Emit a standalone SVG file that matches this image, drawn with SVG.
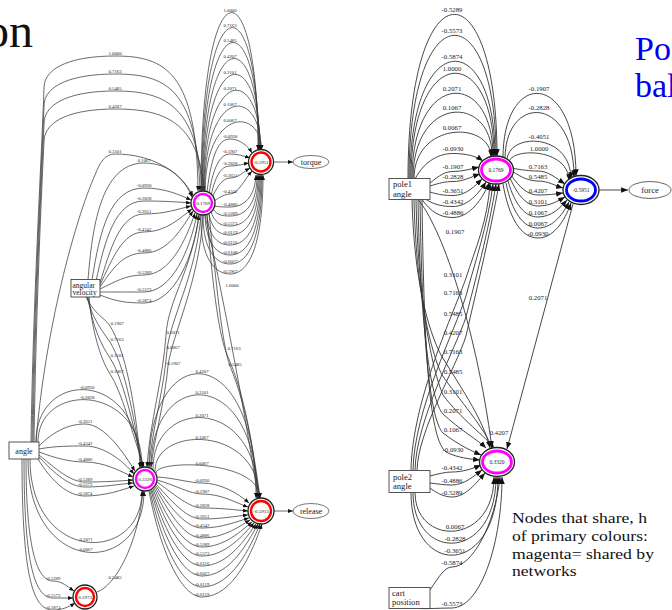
<svg xmlns="http://www.w3.org/2000/svg" width="672" height="610" viewBox="0 0 672 610">
<defs>
<marker id="al" viewBox="0 0 10 8" refX="10" refY="4" markerWidth="5" markerHeight="4" markerUnits="userSpaceOnUse" orient="auto"><path d="M0,0 L10,4 L0,8 z" fill="#111"/></marker>
<marker id="ar" viewBox="0 0 10 8" refX="10" refY="4" markerWidth="7" markerHeight="5.5" markerUnits="userSpaceOnUse" orient="auto"><path d="M0,0 L10,4 L0,8 z" fill="#111"/></marker>
<style>
.e{fill:none;stroke:#3a3a3a;stroke-width:0.75;marker-end:url(#al)}
.er{fill:none;stroke:#333;stroke-width:0.9;marker-end:url(#ar)}
.lb{font-family:"Liberation Serif",serif;font-size:4.8px;text-anchor:middle;fill:#222}
.lr{font-family:"Liberation Serif",serif;font-size:6.8px;text-anchor:middle;fill:#222}
.nt{font-family:"Liberation Serif",serif;text-anchor:middle;fill:#222}
.bx{fill:#fff;stroke:#444;stroke-width:0.9}
.ob{fill:#fff;stroke:#222;stroke-width:1.3}
.tt{font-family:"Liberation Serif",serif}
</style>
</defs>
<rect width="672" height="610" fill="#fff"/>

<text class="tt" x="33" y="47" font-size="48" text-anchor="end" fill="#111">on</text>
<text class="tt" x="635" y="60" font-size="34" fill="#0000ee">Po</text>
<text class="tt" x="635" y="97" font-size="34" fill="#0000ee">bal</text>
<g class="tt" font-size="15.6" fill="#111">
<text transform="translate(512,522.5) scale(1.13,1)">Nodes that share, h</text>
<text transform="translate(512,540.5) scale(1.13,1)">of primary colours:</text>
<text transform="translate(512,558.5) scale(1.13,1)">magenta= shared by</text>
<text transform="translate(512,576) scale(1.13,1)">networks</text>
</g>

<g id="connectors-left">
<path class="e" d="M31,442 C33,300 42,150 44,88 C44,66 75,56 115,56 C165,56 197,72 198,191"/>
<path class="e" d="M32,442 C34,300 42,160 44,106 C44,84 75,74 115,74 C165,74 197,88 200,191"/>
<path class="e" d="M33,442 C35,300 42,170 44,124 C44,101 75,91 115,91 C163,91 198,104 202,191"/>
<path class="e" d="M34,442 C36,310 42,180 44,142 C44,119 75,109 115,109 C162,109 199,120 204,191"/>
<path class="e" d="M36,442 C45,330 75,220 95,175 C100,162 105,154 115,154 C150,154 180,170 193,196"/>
<path class="e" d="M88,280 C92,230 100,163 144,163 C170,163 185,180 192,197"/>
<path class="e" d="M92,280 C100,230 110,188 144,188 C165,188 180,195 191,200"/>
<path class="e" d="M96,281 C105,240 115,201 144,201 C165,201 178,202 191,203"/>
<path class="e" d="M100,283 C110,250 120,214 144,214 C165,214 178,209 191,206"/>
<path class="e" d="M100,285 C112,260 122,232 144,232 C166,232 180,218 192,209"/>
<path class="e" d="M100,287 C112,270 122,253 144,253 C168,253 182,228 193,211"/>
<path class="e" d="M100,289 C115,282 125,275 144,275 C170,275 186,240 195,213"/>
<path class="e" d="M100,292 C115,292 125,292 144,292 C172,292 190,250 197,214"/>
<path class="e" d="M100,295 C115,301 125,303 144,303 C175,303 194,255 199,215"/>
<path class="e" d="M201,191 C201,-39.5 258,-39.5 258,150"/>
<path class="e" d="M201.6,191 C201.6,-19.5 258.5,-19.5 258.5,150"/>
<path class="e" d="M202.2,191 C202.2,0.5 259,0.5 259,150"/>
<path class="e" d="M202.8,191 C202.8,21.9 259.5,21.9 259.5,150"/>
<path class="e" d="M203.4,191 C203.4,43.2 260,43.2 260,150"/>
<path class="e" d="M204,191 C204,64.5 260.5,64.5 260.5,150"/>
<path class="e" d="M204.6,191 C204.6,85.9 261,85.9 261,150"/>
<path class="e" d="M205.2,191 C205.2,107.2 261.5,107.2 261.5,150"/>
<path class="e" d="M207,192 C212,150 220,139 230,139 C240,139 248,146 252,153"/>
<path class="e" d="M209,194 C214,162 222,154 230,154 C238,154 244,156 250,158"/>
<path class="e" d="M211,196 C216,172 223,166 230,166 C238,166 243,164 249,163"/>
<path class="e" d="M212,198 C218,184 224,178 230,178 C238,178 243,172 250,168"/>
<path class="e" d="M214,201 C220,197 225,194 230,194 C238,194 244,180 252,171"/>
<path class="e" d="M214,206 C220,207 224,207 230,207 C244,207 255,197 256,175"/>
<path class="e" d="M213,209 C217,215 222,216 230,216 C245,216 257,205 257,175"/>
<path class="e" d="M211,212 C215,223 221,226 230,226 C246,226 258,212 258,175"/>
<path class="e" d="M209,214 C212,230 220,235 230,235 C247,235 259,218 259,175"/>
<path class="e" d="M207,215 C209,238 219,245 230,245 C248,245 260,225 260,175"/>
<path class="e" d="M205,215 C206,245 218,255 230,255 C249,255 261,230 261,175"/>
<path class="e" d="M203,215 C203,252 217,264 230,264 C250,264 262,235 262,175"/>
<path class="e" d="M201,215 C200,260 216,274 230,274 C251,274 263,240 263,175"/>
<path class="e" d="M199,215 C192,270 168,300 166,335 C163,380 150,420 147,467"/>
<path class="e" d="M201,215 C196,275 170,320 167,350 C164,390 152,430 149,467"/>
<path class="e" d="M203,215 C200,280 172,335 168,366 C165,400 154,440 151,467"/>
<path class="e" d="M205,215 C215,260 240,380 258,498"/>
<path class="e" d="M207,215 C212,280 218,330 226,352 C234,372 248,400 259,498"/>
<path class="e" d="M209,214 C216,280 222,345 230,366 C238,386 250,420 260,498"/>
<path class="e" d="M149,467 C149,337.9 256,337.9 256,498"/>
<path class="e" d="M151,468 C151,365.9 257,365.9 257,498"/>
<path class="e" d="M153,469 C153,396.2 258,396.2 258,498"/>
<path class="e" d="M155,471 C155,425.2 259,425.2 259,498"/>
<path class="e" d="M156,473 C156,459.5 260,459.5 260,498"/>
<path class="e" d="M157,477 C175,478 190,483 202,483 C220,483 238,493 249,503"/>
<path class="e" d="M157,480 C175,485 190,494 202,494 C222,494 236,503 248,507"/>
<path class="e" d="M157,482 C175,495 190,508 202,508 C222,508 236,510 248,511"/>
<path class="e" d="M156,484 C175,505 188,519 202,519 C222,519 236,516 248,515"/>
<path class="e" d="M156,486 C173,512 188,528 202,528 C222,528 238,521 249,518"/>
<path class="e" d="M155,487 C172,518 186,538 202,538 C224,538 240,526 250,520"/>
<path class="e" d="M154,488 C170,525 186,547 202,547 C225,547 242,530 252,522"/>
<path class="e" d="M153,489 C168,530 185,556 202,556 C226,556 244,534 254,523"/>
<path class="e" d="M152,490 C166,535 184,566 202,566 C228,566 246,538 256,524"/>
<path class="e" d="M151,490 C164,540 183,576 202,576 C230,576 248,542 258,524"/>
<path class="e" d="M150,491 C162,545 182,587 202,587 C232,587 251,546 260,524"/>
<path class="e" d="M149,491 C160,550 181,597 202,597 C234,597 253,550 262,524"/>
<path class="e" d="M36,442 C36,368.3 140,368.3 140,468"/>
<path class="e" d="M38,442 C38,381.9 142,381.9 142,467"/>
<path class="e" d="M39,446 C55,430 70,424 85,424 C105,424 125,455 135,471"/>
<path class="e" d="M39,449 C55,446 70,446 85,446 C105,446 124,462 134,474"/>
<path class="e" d="M39,452 C55,458 70,462 85,462 C105,462 122,472 133,477"/>
<path class="e" d="M39,455 C55,468 70,482 85,482 C105,482 120,481 133,480"/>
<path class="e" d="M39,457 C55,474 70,487 85,487 C105,487 120,484 133,483"/>
<path class="e" d="M38,459 C52,482 68,496 85,496 C105,496 122,490 134,486"/>
<path class="e" d="M30,459 C30,564.3 142,564.3 142,491"/>
<path class="e" d="M28,459 C28,577.7 144,577.7 144,491"/>
<path class="e" d="M26,459 C26,540 35,581 53,581 C62,581 68,587 74,591"/>
<path class="e" d="M24,459 C24,565 35,598 53,598 C60,598 66,598 73,598"/>
<path class="e" d="M22,459 C22,585 35,610 53,610 C62,610 69,607 75,603"/>
<path class="e" d="M97,592 C115,586 138,545 143,491"/>
<path class="e" d="M86,297 C95,315 105,318 110,326 C125,350 135,400 141,467"/>
<path class="e" d="M87,297 C93,320 103,332 110,342 C124,365 133,410 142,467"/>
<path class="e" d="M88,297 C92,325 101,345 110,358 C123,378 132,420 143,467"/>
<path class="e" d="M89,297 C92,330 100,358 110,374 C122,392 131,430 144,467"/>
<path class="e" d="M274,162 L293,162"/>
<path class="e" d="M274,511 L293,511"/>
</g>

<g id="edge-labels-left" class="lb">
<text x="115" y="54.6">1.0000</text><text x="115" y="72.6">0.7163</text><text x="115" y="89.6">0.5485</text><text x="115" y="107.6">0.4207</text><text x="115" y="152.6">0.3101</text>
<text x="144" y="161.6">0.1067</text><text x="144" y="186.6">-0.0930</text><text x="144" y="199.6">-0.2828</text><text x="144" y="212.6">-0.3651</text><text x="144" y="230.6">-0.4342</text><text x="144" y="251.6">-0.4886</text><text x="144" y="273.6">-0.5289</text><text x="144" y="290.6">-0.5573</text><text x="144" y="301.6">-0.5874</text>
<text x="230" y="11.6">1.0000</text><text x="230" y="26.6">0.7163</text><text x="230" y="41.6">0.5485</text><text x="230" y="57.6">0.4207</text><text x="230" y="73.6">0.3101</text><text x="230" y="89.6">0.2071</text><text x="230" y="105.6">0.1067</text><text x="230" y="121.6">0.0067</text><text x="230" y="137.6">-0.0930</text><text x="230" y="152.6">-0.1907</text><text x="230" y="164.6">-0.2828</text><text x="230" y="176.6">-0.3651</text><text x="230" y="192.6">-0.4342</text>
<text x="230" y="205.6">-0.4886</text><text x="230" y="214.6">-0.5289</text><text x="230" y="224.6">-0.5573</text><text x="230" y="233.6">-0.6119</text><text x="230" y="243.6">-0.6116</text><text x="230" y="253.6">-0.6108</text><text x="230" y="262.6">-0.6027</text><text x="230" y="272.6">-0.5967</text>
<text x="173" y="333.6">0.2071</text><text x="173" y="348.6">0.0067</text><text x="173" y="364.6">-0.1907</text>
<text x="232" y="286.6">1.0000</text><text x="234" y="349.6">0.7163</text><text x="235" y="365.6">0.5485</text>
<text x="202" y="372.6">0.4207</text><text x="202" y="393.6">0.3101</text><text x="202" y="416.6">0.2071</text><text x="202" y="438.6">0.1067</text><text x="202" y="464.6">0.0067</text><text x="202" y="481.6">-0.0930</text><text x="202" y="492.6">-0.1907</text><text x="202" y="506.6">-0.2828</text><text x="202" y="517.6">-0.3651</text><text x="202" y="526.6">-0.4342</text><text x="202" y="536.6">-0.4886</text><text x="202" y="545.6">-0.5289</text><text x="202" y="554.6">-0.5573</text><text x="202" y="564.6">-0.6116</text><text x="202" y="574.6">-0.6027</text><text x="202" y="585.6">-0.6119</text><text x="202" y="595.6">-0.6119</text>
<text x="87" y="388.6">-0.0930</text><text x="87" y="398.6">-0.2828</text><text x="85" y="422.6">-0.3651</text><text x="85" y="444.6">-0.4342</text><text x="85" y="460.6">-0.4886</text><text x="85" y="480.6">-0.5289</text><text x="85" y="485.6">-0.5573</text><text x="85" y="494.6">-0.5874</text><text x="86" y="540.6">0.2071</text><text x="86" y="550.6">0.0067</text>
<text x="53" y="579.6">-0.5289</text><text x="53" y="596.6">-0.5573</text><text x="53" y="608.6">-0.5874</text>
<text x="115" y="578.6">0.5485</text>
<text x="117" y="324.6">0.1907</text><text x="117" y="340.6">0.7163</text><text x="117" y="356.6">0.3101</text><text x="117" y="372.6">0.1067</text>
</g>

<g id="connectors-right">
<path class="er" d="M408,179 C408,-36.5 497,-36.5 497,156"/>
<path class="er" d="M409,179 C409,-8.5 496,-8.5 496,156"/>
<path class="er" d="M410,179 C410,26.1 495,26.1 495,156"/>
<path class="er" d="M411,179 C411,42.1 494,42.1 494,156"/>
<path class="er" d="M412,179 C412,68.8 493,68.8 493,156"/>
<path class="er" d="M413,179 C413,94.1 492,94.1 492,156"/>
<path class="er" d="M414,179 C414,120.8 491,120.8 491,157"/>
<path class="er" d="M415,179 C425,160 440,153.5 453,153.5 C466,153.5 476,156 483,161"/>
<path class="er" d="M430,183 C440,175 445,171.5 453,171.5 C462,171.5 471,169 479,167"/>
<path class="er" d="M430,186 C440,183 445,181.5 453,181.5 C463,181.5 471,177 480,174"/>
<path class="er" d="M430,192 C440,195 445,195.5 453,195.5 C466,195.5 475,186 482,179"/>
<path class="er" d="M426,199.5 C435,205 443,206.5 453,206.5 C468,206.5 479,193 486,182"/>
<path class="er" d="M422,199.5 C431,212 440,217.5 453,217.5 C470,217.5 483,198 489,183"/>
<path class="er" d="M503,158 C503,69 576,69 576,176"/>
<path class="er" d="M505,159 C505,94.3 574,94.3 574,177"/>
<path class="er" d="M507,161 C507,132 571,132 571,179"/>
<path class="er" d="M509,163 C509,147.3 569,147.3 569,181"/>
<path class="er" d="M511,168 C522,170 530,171 538,171 C548,171 556,178 565,184"/>
<path class="er" d="M512,171 C522,178 530,181 538,181 C548,181 556,186 563,188"/>
<path class="er" d="M511,175 C520,188 528,195 538,195 C548,195 556,194 563,193"/>
<path class="er" d="M510,178 C518,196 527,206 538,206 C550,206 558,201 565,197"/>
<path class="er" d="M508,181 C515,205 525,217 538,217 C552,217 561,207 567,200"/>
<path class="er" d="M506,183 C512,212 523,228 538,228 C554,228 564,212 569,202"/>
<path class="er" d="M503,184 C509,218 521,238 538,238 C556,238 567,215 571,203"/>
<path class="er" d="M599,190 L628,190"/>
<path class="er" d="M411,470.5 C412,400 455,310 466,278 C475,250 488,220 490,183"/>
<path class="er" d="M413,470.5 C414,410 455,330 466,296 C474,265 488,225 493,184"/>
<path class="er" d="M415,470.5 C416,420 455,350 466,317 C474,285 489,230 496,184"/>
<path class="er" d="M417,470.5 C418,430 455,370 466,336 C474,300 490,235 499,184"/>
<path class="er" d="M418,199.5 C440,225 475,320 492,448"/>
<path class="er" d="M412,199.5 C414,280 428,330 441,355 C456,380 484,420 490,448"/>
<path class="er" d="M414,199.5 C416,290 430,350 442,375 C458,398 486,430 492,448"/>
<path class="er" d="M416,199.5 C418,300 432,370 443,395 C460,418 487,438 494,448"/>
<path class="er" d="M418,199.5 C420,320 430,400 443,414 C460,430 478,440 486,448"/>
<path class="er" d="M420,199.5 C422,340 430,420 443,433 C460,446 474,452 481,455"/>
<path class="er" d="M422,199.5 C424,360 430,440 446,452 C458,458 470,459 480,460"/>
<path class="er" d="M430,476 C438,474 445,472 452,472 C462,472 472,469 481,465"/>
<path class="er" d="M430,483 C438,484 445,485 452,485 C464,485 474,476 482,470"/>
<path class="er" d="M430,488 C438,494 445,497 452,497 C466,497 477,482 485,473"/>
<path class="er" d="M415,492.5 C415,546.5 494,546.5 494,477"/>
<path class="er" d="M413,492.5 C413,562.5 496,562.5 496,477"/>
<path class="er" d="M411,492.5 C411,578.5 498,578.5 498,477"/>
<path class="er" d="M430,590 C440,575 445,567 452,567 C472,567 495,525 500,477"/>
<path class="er" d="M418,608.5 C428,609 440,608 452,608 C482,607 502,540 502,477"/>
<path class="er" d="M573,204 L507,449"/>
</g>

<g id="edge-labels-right" class="lr">
<text x="452" y="12.3">-0.5289</text><text x="452" y="33.3">-0.5573</text><text x="452" y="59.3">-0.5874</text><text x="452" y="71.3">1.0000</text><text x="452" y="91.3">0.2071</text><text x="452" y="110.3">0.1067</text><text x="452" y="130.3">0.0067</text><text x="453" y="151.3">-0.0930</text><text x="453" y="169.3">-0.1907</text><text x="453" y="179.3">-0.2828</text><text x="453" y="193.3">-0.3651</text><text x="453" y="204.3">-0.4342</text><text x="453" y="215.3">-0.4886</text>
<text x="539" y="91.3">-0.1907</text><text x="539" y="110.3">-0.2828</text><text x="539" y="139.3">-0.4051</text><text x="539" y="151.3">1.0000</text><text x="538" y="169.3">0.7163</text><text x="538" y="179.3">0.5485</text><text x="538" y="193.3">0.4207</text><text x="538" y="204.3">0.3101</text><text x="538" y="215.3">0.1067</text><text x="538" y="226.3">0.0067</text><text x="538" y="236.3">-0.0930</text>
<text x="453" y="277.3">0.3101</text><text x="453" y="295.3">0.7163</text><text x="453" y="316.3">0.5485</text><text x="453" y="335.3">0.4207</text>
<text x="455" y="234.3">0.1907</text><text x="453" y="354.3">0.7163</text><text x="453" y="374.3">0.5485</text><text x="453" y="394.3">0.3101</text><text x="453" y="413.3">0.2071</text><text x="453" y="432.3">0.1067</text><text x="453" y="452.3">-0.0930</text>
<text x="452" y="470.3">-0.4342</text><text x="452" y="483.3">-0.4886</text><text x="452" y="495.3">-0.5289</text><text x="455" y="529.3">0.0067</text><text x="455" y="541.3">-0.2828</text><text x="455" y="553.3">-0.3651</text>
<text x="452" y="565.3">-0.5874</text><text x="452" y="606.3">-0.5573</text>
<text x="538" y="300.3">0.2071</text>
<text x="499" y="435.3">0.4207</text>
</g>

<g id="node-angular-velocity"><rect class="bx" x="71" y="279.5" width="29" height="17.5"/><text class="tt" x="72.5" y="287.5" font-size="7.5" fill="#222">angular</text><text class="tt" x="72.5" y="295" font-size="7.5" fill="#222">velocity</text></g>
<g id="node-angle"><rect class="bx" x="9" y="442" width="30" height="17"/><text class="nt" x="24" y="453.5" font-size="8">angle</text></g>
<g id="node-l-0.1769"><circle class="ob" cx="203" cy="203" r="12"/><circle cx="203" cy="203" r="9" fill="none" stroke="#ff00ff" stroke-width="2.4"/><text class="nt" x="203" y="204.8" font-size="5">0.1769</text></g>
<g id="node-l-torque-unit"><circle class="ob" cx="261" cy="162" r="12.5"/><circle cx="261" cy="162" r="9.5" fill="none" stroke="#ff0000" stroke-width="2.4"/><text class="nt" x="261" y="163.8" font-size="5">-0.5951</text></g>
<g id="node-torque"><ellipse cx="311" cy="162" rx="18" ry="6.5" fill="#fff" stroke="#555" stroke-width="0.8"/><text class="nt" x="311" y="164.6" font-size="8">torque</text></g>
<g id="node-l-0.3320"><circle class="ob" cx="145" cy="479" r="12"/><circle cx="145" cy="479" r="9" fill="none" stroke="#ff00ff" stroke-width="2.4"/><text class="nt" x="145" y="480.8" font-size="5">0.3320</text></g>
<g id="node-l-release-unit"><circle class="ob" cx="261" cy="511" r="13"/><circle cx="261" cy="511" r="10" fill="none" stroke="#ff0000" stroke-width="2.4"/><text class="nt" x="261" y="512.8" font-size="5">-0.5913</text></g>
<g id="node-release"><ellipse cx="311" cy="511" rx="18" ry="7.5" fill="#fff" stroke="#555" stroke-width="0.8"/><text class="nt" x="311" y="513.6" font-size="8">release</text></g>
<g id="node-l-0.5973"><circle class="ob" cx="85" cy="597" r="12"/><circle cx="85" cy="597" r="9" fill="none" stroke="#ff0000" stroke-width="2.4"/><text class="nt" x="85" y="598.8" font-size="5">0.5973</text></g>

<g id="node-pole1-angle"><rect class="bx" x="389" y="178.5" width="41" height="21"/><text class="tt" x="393" y="187" font-size="8.6" fill="#222">pole1</text><text class="tt" x="393" y="196.6" font-size="8.6" fill="#222">angle</text></g>
<g id="node-r-0.1769"><ellipse class="ob" cx="496" cy="170" rx="17.5" ry="14" stroke-width="1.5"/><ellipse cx="496" cy="170" rx="14.5" ry="11" fill="none" stroke="#ff00ff" stroke-width="2.8"/><text class="nt" x="496" y="172" font-size="5.5">0.1769</text></g>
<g id="node-r-force-unit"><ellipse class="ob" cx="581" cy="190" rx="18" ry="14.5" stroke-width="1.5"/><ellipse cx="581" cy="190" rx="14.5" ry="11" fill="none" stroke="#0000ff" stroke-width="2.8"/><text class="nt" x="581" y="192" font-size="5.5">-0.5951</text></g>
<g id="node-force"><ellipse cx="650" cy="190" rx="21" ry="8.5" fill="#fff" stroke="#555" stroke-width="0.9"/><text class="nt" x="650" y="192.8" font-size="8.5">force</text></g>
<g id="node-r-0.3320"><ellipse class="ob" cx="497" cy="462" rx="17.5" ry="14.5" stroke-width="1.5"/><ellipse cx="497" cy="462" rx="14.5" ry="11" fill="none" stroke="#ff00ff" stroke-width="2.8"/><text class="nt" x="497" y="464" font-size="5.5">0.3320</text></g>
<g id="node-pole2-angle"><rect class="bx" x="389" y="470.5" width="41" height="22"/><text class="tt" x="393" y="479.5" font-size="8.6" fill="#222">pole2</text><text class="tt" x="393" y="489.1" font-size="8.6" fill="#222">angle</text></g>
<g id="node-cart-position"><rect class="bx" x="389" y="587.5" width="41" height="21"/><text class="tt" x="392" y="595.5" font-size="8.6" fill="#222">cart</text><text class="tt" x="392" y="605.1" font-size="8.6" fill="#222">position</text></g>
</svg>
